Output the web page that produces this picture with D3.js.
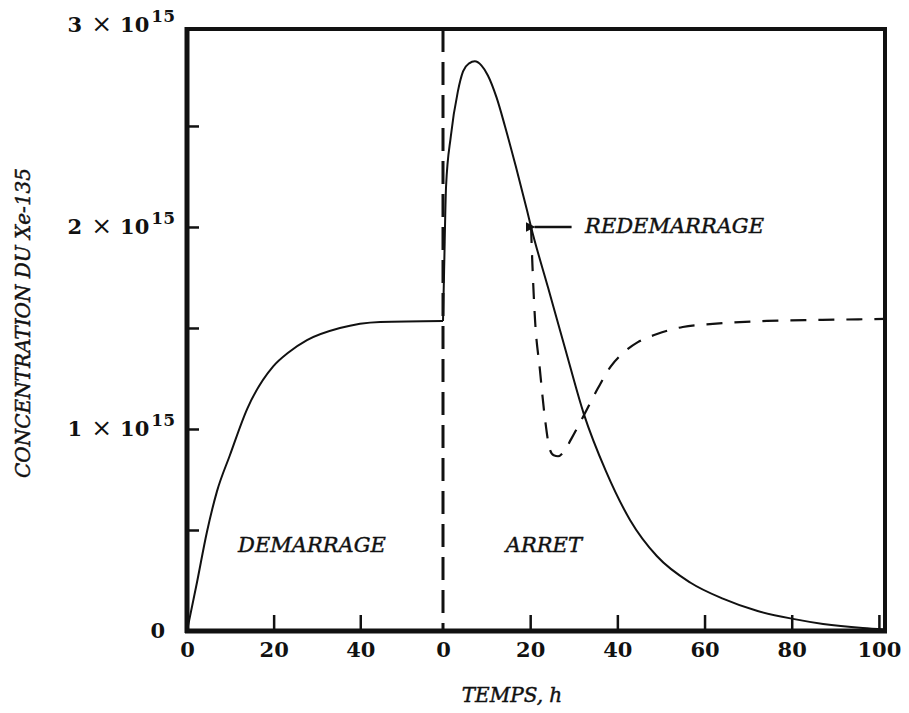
<!DOCTYPE html>
<html>
<head>
<meta charset="utf-8">
<script src="https://cdn.jsdelivr.net/npm/d3@7"></script>
<style>
  html, body { margin: 0; padding: 0; background: #fff; }
  svg { display: block; }
  .tick-label { font-family: "DejaVu Serif", serif; font-weight: bold; font-size: 21px; fill: #111; }
  .note { font-family: "DejaVu Serif", serif; font-style: italic; fill: #111; stroke: #111; stroke-width: 0.45px; }
</style>
</head>
<body>
<svg id="chart" width="909" height="713"></svg>
<script>
// Xe-135 concentration (units of 1e15) versus time in hours

// Reactor start-up: build-up towards equilibrium
const startupTime  = [0, 2.3, 4.6, 6.9, 9.9, 13.9, 19.9, 23.5, 27.7, 35.3, 44.6, 59.1];
const startupXenon = [0, 0.24, 0.49, 0.69, 0.87, 1.10, 1.31, 1.38, 1.44, 1.50, 1.53, 1.535];

// Shutdown: xenon peak followed by decay
const shutdownTime  = [0, 0.25, 0.7, 1.8, 3.4, 4.6, 6.0, 7.3, 8.8, 10.3, 12.3, 14.2, 16.7, 19.3, 20.2, 24.1, 28.0, 32.3, 37.4, 42.9, 49.1, 56.7, 64.2, 72.0, 80.3, 87.2, 96.3, 101.4];
const shutdownXenon = [1.535, 1.78, 2.20, 2.45, 2.67, 2.77, 2.81, 2.82, 2.80, 2.75, 2.64, 2.50, 2.30, 2.08, 2.00, 1.70, 1.40, 1.075, 0.79, 0.55, 0.37, 0.24, 0.16, 0.10, 0.06, 0.035, 0.015, 0.008];

// Restart at t = 20 h after shutdown: burn-out dip then return to equilibrium
const restartTime  = [20.2, 20.5, 21.1, 22.2, 23.4, 24.5, 25.4, 26.4, 27.8, 29.4, 32.5, 35.5, 38.5, 41.5, 44.7, 49.1, 55.0, 61.9, 74.3, 87.0, 101.4];
const restartXenon = [2.00, 1.82, 1.545, 1.30, 1.05, 0.90, 0.87, 0.865, 0.89, 0.95, 1.075, 1.20, 1.31, 1.38, 1.43, 1.47, 1.505, 1.52, 1.535, 1.54, 1.545];

// Axis ticks
const yTicks = [0, 0.5, 1, 1.5, 2, 2.5, 3];
const yTickLabels = ["0", "", "1", "", "2", "", "3"];
const startupTicks = [0, 20, 40];
const shutdownTicks = [0, 20, 40, 60, 80, 100];

// Texts
const yTitle = "CONCENTRATION DU Xe-135";
const xTitle = "TEMPS, h";
const startupLabel = "DEMARRAGE";
const shutdownLabel = "ARRET";
const restartLabel = "REDEMARRAGE";

const svg = d3.select("#chart");

const plotL = 187, plotR = 885, plotT = 29, plotB = 631, splitX = 443;

const y = d3.scaleLinear().domain([0, 2.98]).range([plotB, plotT]);
const xStart = d3.scaleLinear().domain([0, 59.1]).range([plotL, splitX]);
const xStop = d3.scaleLinear().domain([0, 101.4]).range([splitX, plotR]);

// Curves
const lineStart = d3.line().x(d => xStart(d[0])).y(d => y(d[1])).curve(d3.curveMonotoneX);
const lineStop = d3.line().x(d => xStop(d[0])).y(d => y(d[1])).curve(d3.curveMonotoneX);

const zip = (a, b) => a.map((v, i) => [v, b[i]]);

svg.append("path")
  .datum(zip(startupTime, startupXenon))
  .attr("d", lineStart)
  .attr("fill", "none").attr("stroke", "#111").attr("stroke-width", 2);

svg.append("path")
  .datum(zip(shutdownTime, shutdownXenon))
  .attr("d", lineStop)
  .attr("fill", "none").attr("stroke", "#111").attr("stroke-width", 2);

svg.append("path")
  .datum(zip(restartTime, restartXenon))
  .attr("d", lineStop)
  .attr("fill", "none").attr("stroke", "#111").attr("stroke-width", 2.2)
  .attr("stroke-dasharray", "16,12");

// Boundary between start-up and shutdown
svg.append("line")
  .attr("x1", splitX).attr("x2", splitX)
  .attr("y1", plotT).attr("y2", plotB)
  .attr("stroke", "#111").attr("stroke-width", 3)
  .attr("stroke-dasharray", "23,10");

// Y axis (ticks pointing inward)
const yAxis = d3.axisLeft(y).tickValues(yTicks).tickSize(-12).tickFormat("");
const gy = svg.append("g").attr("transform", `translate(${plotL},0)`).call(yAxis);
gy.select(".domain").remove();
gy.selectAll(".tick line").attr("stroke", "#111").attr("stroke-width", 2.5);
gy.selectAll(".tick").filter(d => d === 3).select("line").remove();

gy.selectAll(".tick").each(function (d, i) {
  const lab = yTickLabels[i];
  if (!lab) return;
  const t = d3.select(this).append("text")
    .attr("class", "tick-label")
    .attr("font-size", "22px")
    .attr("text-anchor", "end")
    .attr("dy", "0.3em");
  if (lab === "0") {
    t.attr("x", -22).text("0");
  } else {
    t.attr("x", -12);
    t.append("tspan").text(lab);
    t.append("tspan").attr("dx", "9").attr("font-size", "25px").attr("font-weight", "normal").text("\u00D7");
    t.append("tspan").attr("dx", "8").text("10");
    t.append("tspan").attr("font-size", "17px").attr("dx", "2").attr("dy", "-10").text("15");
  }
});

// X axes (two time origins)
function styleX(g) {
  g.select(".domain").remove();
  g.selectAll(".tick line").attr("stroke", "#111").attr("stroke-width", 2.5);
  g.selectAll(".tick text").attr("class", "tick-label").attr("fill", null).attr("dy", "0.67em");
}
const gxs = svg.append("g").attr("transform", `translate(0,${plotB})`)
  .call(d3.axisBottom(xStart).tickValues(startupTicks).tickSize(-16).tickPadding(12).tickFormat(d3.format("d")));
styleX(gxs);
const gxe = svg.append("g").attr("transform", `translate(0,${plotB})`)
  .call(d3.axisBottom(xStop).tickValues(shutdownTicks).tickSize(-16).tickPadding(12).tickFormat(d3.format("d")));
styleX(gxe);
gxe.selectAll(".tick").filter(d => d === 0).select("line").remove();

// Frame
svg.append("rect")
  .attr("x", plotL).attr("y", plotT)
  .attr("width", plotR - plotL).attr("height", plotB - plotT)
  .attr("fill", "none").attr("stroke", "#111").attr("stroke-width", 4);
svg.append("line").attr("x1", plotL).attr("x2", plotL).attr("y1", plotT - 2).attr("y2", plotB + 2)
  .attr("stroke", "#111").attr("stroke-width", 5);
svg.append("line").attr("x1", plotL - 2).attr("x2", plotR + 2).attr("y1", plotB).attr("y2", plotB)
  .attr("stroke", "#111").attr("stroke-width", 5);

// Region labels
svg.append("text").attr("class", "note").attr("font-size", "21px")
  .attr("x", xStart(11.8)).attr("y", y(0.39)).text(startupLabel);
svg.append("text").attr("class", "note").attr("font-size", "21px")
  .attr("x", xStop(14.4)).attr("y", y(0.39)).text(shutdownLabel);

// Restart annotation with arrow
svg.append("defs").append("marker")
  .attr("id", "arrowhead").attr("viewBox", "0 0 10 10")
  .attr("refX", 1).attr("refY", 5)
  .attr("markerWidth", 4).attr("markerHeight", 4)
  .attr("orient", "auto")
  .append("path").attr("d", "M10,0 L0,5 L10,10 Z").attr("fill", "#111");

svg.append("line")
  .attr("x1", xStop(29.5)).attr("x2", xStop(21.0))
  .attr("y1", y(2.0)).attr("y2", y(2.0))
  .attr("stroke", "#111").attr("stroke-width", 2.5)
  .attr("marker-end", "url(#arrowhead)");

svg.append("text").attr("class", "note").attr("font-size", "21px")
  .attr("x", xStop(32.6)).attr("y", y(1.97)).text(restartLabel);

// Axis titles
svg.append("text").attr("class", "note").attr("font-size", "20px")
  .attr("text-anchor", "middle")
  .attr("transform", `translate(30,${(plotT + plotB) / 2 - 7}) rotate(-90)`)
  .text(yTitle);

svg.append("text").attr("class", "note").attr("font-size", "20px")
  .attr("text-anchor", "middle")
  .attr("x", 512).attr("y", 702)
  .text(xTitle);
</script>
</body>
</html>
